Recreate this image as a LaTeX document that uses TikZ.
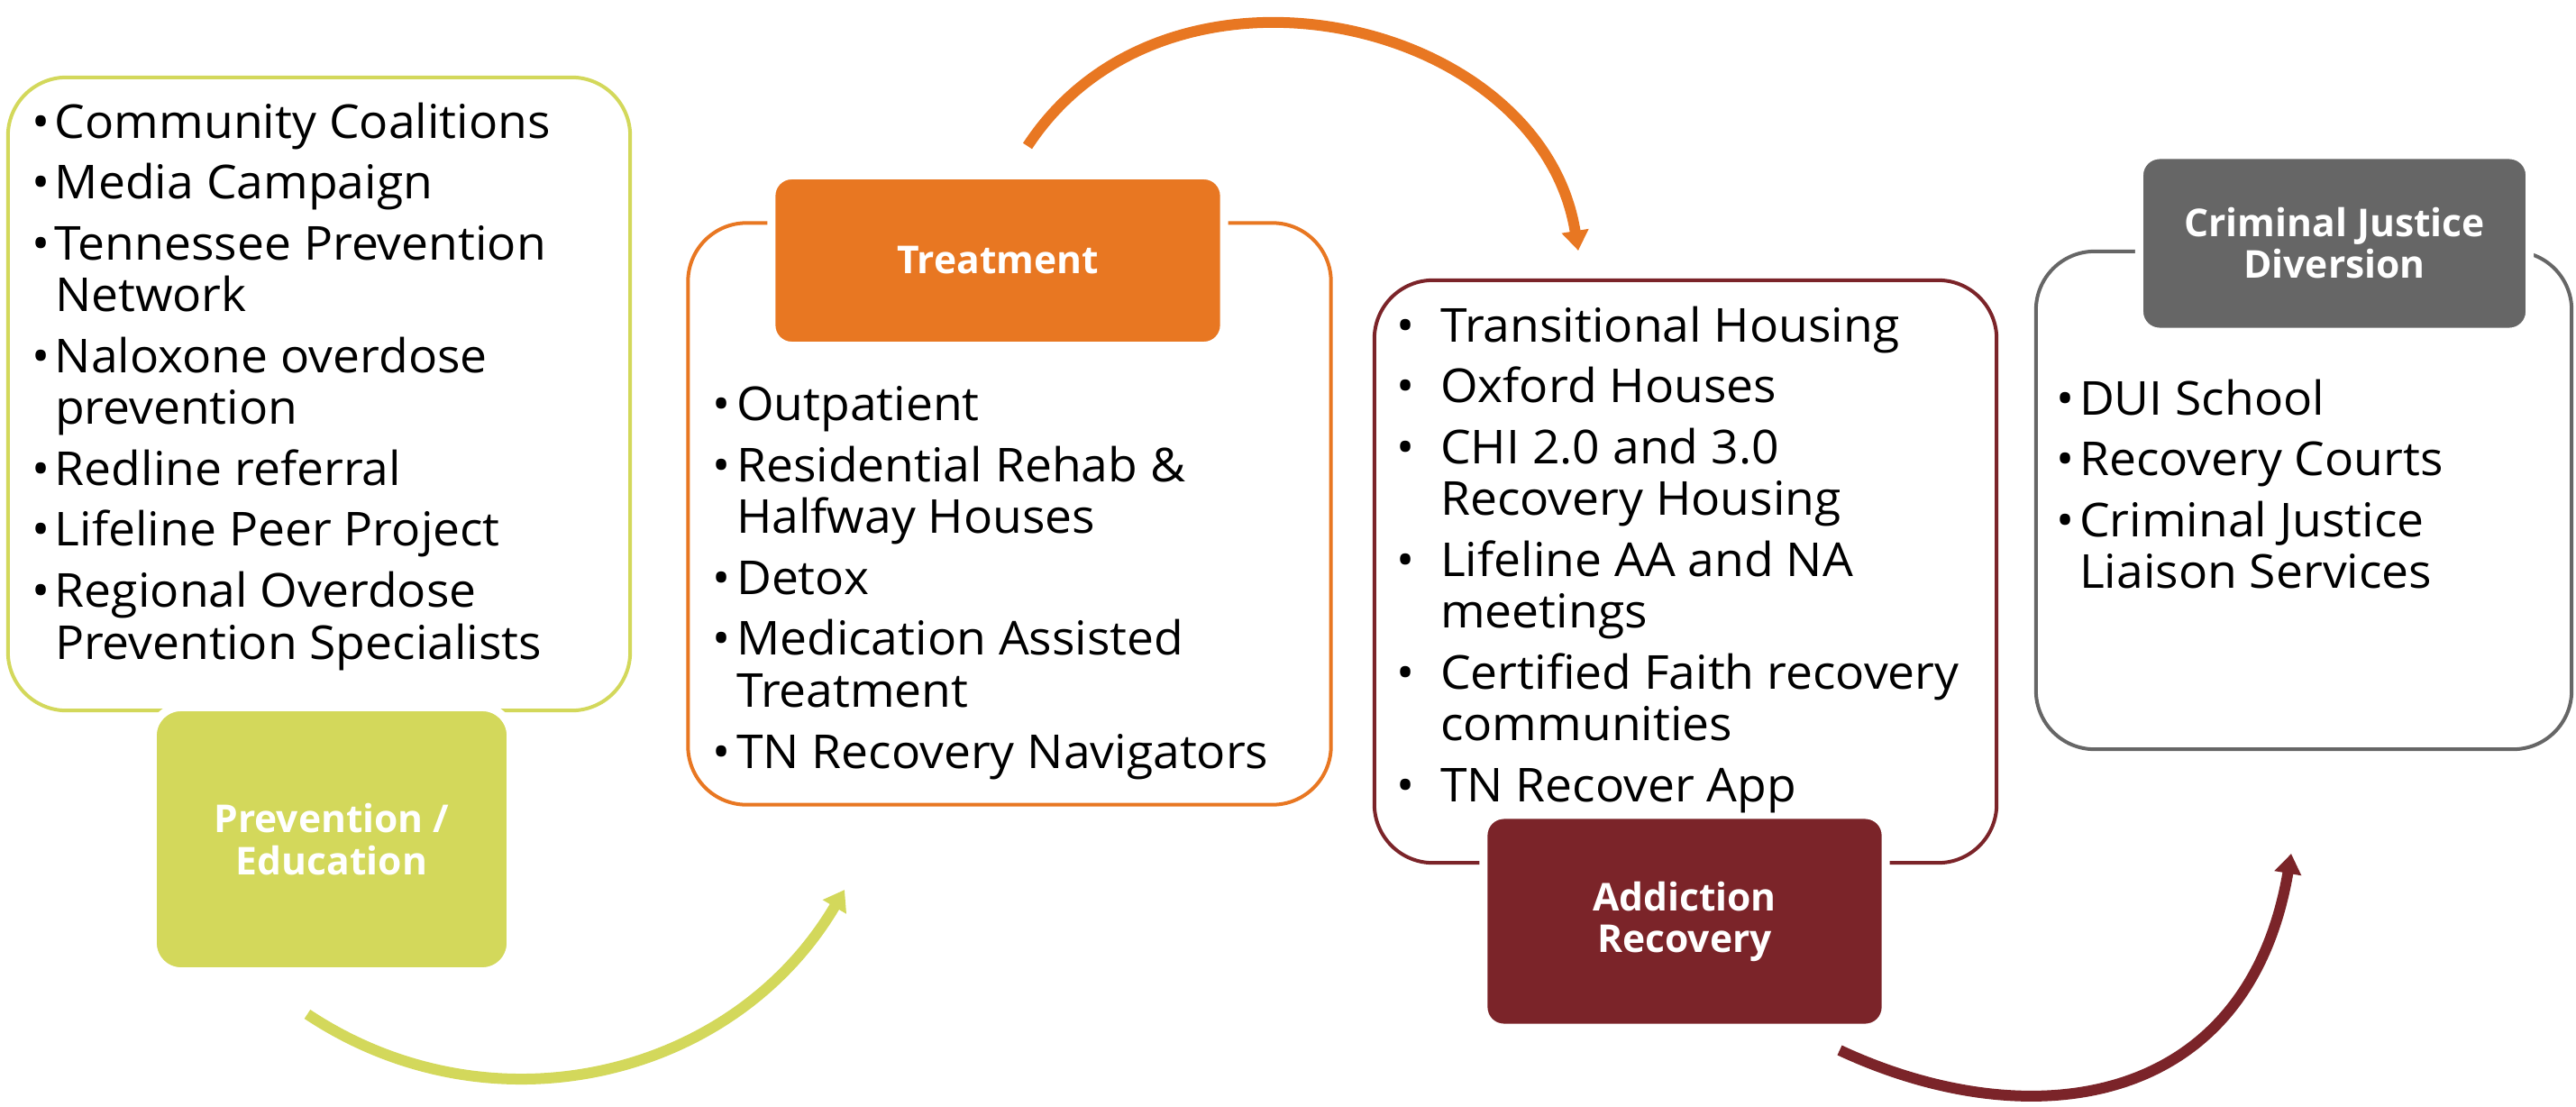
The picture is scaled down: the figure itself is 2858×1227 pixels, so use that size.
\documentclass[tikz,border=0pt]{standalone}
\usepackage{fontspec}
\setmainfont{Open Sans}
\newfontfamily\listfont{Open Sans}[FakeStretch=1.03]
\usetikzlibrary{arrows.meta}

\definecolor{prevgreen}{HTML}{D3D85B}
\definecolor{treatorange}{HTML}{E87722}
\definecolor{recmaroon}{HTML}{7B2429}
\definecolor{cjgray}{HTML}{666666}

\newlength{\bulw}
\newcommand{\itm}{\makebox[\bulw][l]{•}}
\newcommand{\cnt}{\hspace*{\bulw}}

\begin{document}
\begin{tikzpicture}[x=0.01cm, y=-0.01cm,
    frame/.style={rectangle, draw=#1, line width=0.04cm, rounded corners=0.65cm, inner sep=0pt},
    tab/.style={rectangle, fill=#1, draw=white, line width=0.09cm, rounded corners=0.225cm,
      inner sep=0pt, align=center, text=white, font=\fontsize{12.1pt}{13.1pt}\selectfont\bfseries},
    list/.style={anchor=north west, align=left, inner sep=0pt,
      font=\listfont\fontsize{14.75pt}{16.36pt}\selectfont\setlength{\bulw}{#1}},
    flow/.style={line width=0.12cm, -{Triangle[length=0.22cm,width=0.29cm]}}]
    \useasboundingbox (0,0) rectangle (2858,1227);

    % outlines
    \node[frame=prevgreen, minimum width=6.9cm, minimum height=7.02cm] (prevbox) at (354,437) {};
    \node[frame=treatorange, minimum width=7.13cm, minimum height=6.45cm] (treatbox) at (1120,570) {};
    \node[frame=recmaroon, minimum width=6.9cm, minimum height=6.46cm] (recbox) at (1870,634) {};
    \node[frame=cjgray, minimum width=5.94cm, minimum height=5.52cm] (cjbox) at (2556,555) {};

    % tabs
    \node[tab=prevgreen, rounded corners=0.315cm, minimum width=3.97cm, minimum height=2.93cm] (prevtab) at (368,931) {Prevention /\\Education};
    \node[tab=treatorange, minimum width=5.02cm, minimum height=1.89cm] (treattab) at (1107,289) {Treatment};
    \node[tab=recmaroon, minimum width=4.46cm, minimum height=2.36cm] (rectab) at (1869,1022) {Addiction\\Recovery};
    \node[tab=cjgray, minimum width=4.33cm, minimum height=1.96cm] (cjtab) at (2590,270) {Criminal Justice\\Diversion};

    % lists
    \node[list=7.2pt] (prevlist) at (35,113) {\itm Community Coalitions\\[2.85pt]
      \itm Media Campaign\\[2.85pt]
      \itm Tennessee Prevention\\
      \cnt Network\\[2.85pt]
      \itm Naloxone overdose\\
      \cnt prevention\\[2.85pt]
      \itm Redline referral\\[2.85pt]
      \itm Lifeline Peer Project\\[2.85pt]
      \itm Regional Overdose\\
      \cnt Prevention Specialists};
    \node[list=7.5pt] (treatlist) at (790,428) {\itm Outpatient\\[2.85pt]
      \itm Residential Rehab \&\\
      \cnt Halfway Houses\\[2.85pt]
      \itm Detox\\[2.85pt]
      \itm Medication Assisted\\
      \cnt Treatment\\[2.85pt]
      \itm TN Recovery Navigators};
    \node[list=13.8pt] (reclist) at (1549,339) {\itm Transitional Housing\\[2.85pt]
      \itm Oxford Houses\\[2.85pt]
      \itm CHI 2.0 and 3.0\\
      \cnt Recovery Housing\\[2.85pt]
      \itm Lifeline AA and NA\\
      \cnt meetings\\[2.85pt]
      \itm Certified Faith recovery\\
      \cnt communities\\[2.85pt]
      \itm TN Recover App};
    \node[list=7.2pt] (cjlist) at (2281,420) {\itm DUI School\\[2.85pt]
      \itm Recovery Courts\\[2.85pt]
      \itm Criminal Justice\\
      \cnt Liaison Services};

    % arrows
    \coordinate (g1) at (341,1125);
    \coordinate (g2) at (937,987);
    \coordinate (o1) at (1140,162);
    \coordinate (o2) at (1751,278);
    \coordinate (m1) at (2041,1165);
    \coordinate (m2) at (2542,947);
    \draw[flow, prevgreen] (g1) .. controls (544,1260) and (813,1197) .. (g2);
    \draw[flow, treatorange] (o1) .. controls (1295,-75) and (1710,20) .. (o2);
    \draw[flow, recmaroon] (m1) .. controls (2249,1262) and (2493,1233) .. (m2);
\end{tikzpicture}
\end{document}
